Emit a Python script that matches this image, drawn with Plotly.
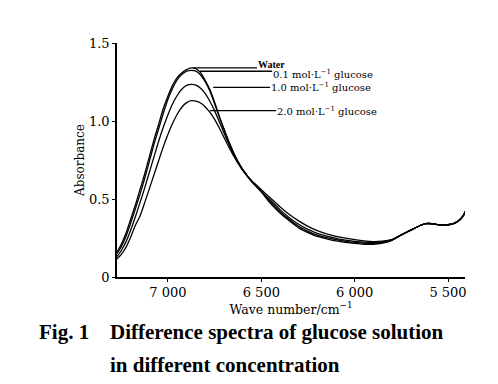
import plotly.graph_objects as go

# ---- data ----
wavenumber = [7273, 7250, 7225, 7200, 7175, 7150, 7125, 7100, 7075, 7050, 7025, 7000,
              6975, 6950, 6925, 6900, 6875, 6850, 6825, 6800, 6775, 6750, 6725, 6700,
              6675, 6650, 6625, 6600, 6550, 6500, 6450, 6400, 6350, 6300, 6250, 6200,
              6150, 6100, 6050, 6000, 5950, 5900, 5850, 5800, 5750, 5700, 5650, 5620,
              5600, 5575, 5550, 5525, 5500, 5475, 5450, 5430, 5415, 5408]

tail = [0.27, 0.30, 0.33, 0.342, 0.343, 0.34, 0.335, 0.333, 0.335, 0.34, 0.355, 0.375, 0.40, 0.42]

water = [0.16, 0.21, 0.28, 0.37, 0.46, 0.56, 0.66, 0.77, 0.88, 0.98, 1.08, 1.16,
         1.23, 1.28, 1.31, 1.33, 1.34, 1.335, 1.31, 1.26, 1.20, 1.12, 1.03, 0.95,
         0.87, 0.80, 0.74, 0.69, 0.61, 0.545, 0.47, 0.41, 0.36, 0.315, 0.285, 0.26,
         0.245, 0.232, 0.222, 0.215, 0.21, 0.21, 0.218, 0.235] + tail

glucose_01 = [0.15, 0.195, 0.26, 0.345, 0.435, 0.53, 0.63, 0.74, 0.85, 0.95, 1.05, 1.14,
              1.21, 1.265, 1.30, 1.32, 1.325, 1.32, 1.295, 1.25, 1.19, 1.11, 1.025, 0.945,
              0.87, 0.80, 0.74, 0.69, 0.61, 0.55, 0.48, 0.42, 0.368, 0.325, 0.293, 0.268,
              0.252, 0.239, 0.229, 0.222, 0.217, 0.216, 0.222, 0.237] + tail

glucose_10 = [0.13, 0.17, 0.225, 0.30, 0.385, 0.475, 0.57, 0.67, 0.77, 0.87, 0.96, 1.04,
              1.11, 1.165, 1.205, 1.228, 1.235, 1.23, 1.21, 1.175, 1.125, 1.065, 0.995, 0.925,
              0.855, 0.79, 0.735, 0.685, 0.61, 0.55, 0.49, 0.432, 0.38, 0.338, 0.305, 0.28,
              0.262, 0.248, 0.237, 0.229, 0.223, 0.221, 0.226, 0.239] + tail

glucose_20 = [0.115, 0.145, 0.19, 0.255, 0.33, 0.39, 0.475, 0.565, 0.655, 0.745, 0.835, 0.915,
              0.985, 1.045, 1.09, 1.118, 1.13, 1.128, 1.115, 1.09, 1.055, 1.01, 0.955, 0.895,
              0.835, 0.78, 0.73, 0.685, 0.615, 0.56, 0.505, 0.45, 0.40, 0.36, 0.325, 0.297,
              0.277, 0.261, 0.249, 0.239, 0.231, 0.227, 0.23, 0.241] + tail

series = [water, glucose_01, glucose_10, glucose_20]

labels = ["<b>Water</b>", "0.1 mol·L<sup>−1</sup> glucose",
          "1.0 mol·L<sup>−1</sup> glucose", "2.0 mol·L<sup>−1</sup> glucose"]
# leader lines: start wavenumber, end wavenumber, absorbance level
label_start = [6866, 6828, 6758, 6775]
label_end = [6523, 6442, 6453, 6421]
label_level = [1.34, 1.319, 1.215, 1.067]
label_text_y = [1.365, 1.30, 1.215, 1.067]

x_tickvals = [7000, 6500, 6000, 5500]
x_ticktext = ["7 000", "6 500", "6 000", "5 500"]
y_tickvals = [0, 0.5, 1.0, 1.5]
y_ticktext = ["0", "0.5", "1.0", "1.5"]

WIDE = "DejaVu Serif, serif"
TIMES = "Liberation Serif, Times New Roman, serif"

# plot area in page pixels (page has an 8px body margin)
L, T, W, H = 117, 43, 348, 234


def px(xp):
    return (xp - L) / W


def py(yp):
    return (T + H - yp) / H


fig = go.Figure()
for s in series:
    fig.add_trace(go.Scatter(x=wavenumber, y=s, mode="lines",
                             line=dict(color="black", width=1.3, shape="spline", smoothing=0.6),
                             showlegend=False, hoverinfo="skip"))

for i, (xs, xe, lv, ty, txt) in enumerate(zip(label_start, label_end, label_level, label_text_y, labels)):
    fig.add_shape(type="line", xref="x", yref="y", x0=xs, x1=xe, y0=lv, y1=lv,
                  line=dict(color="black", width=1.3))
    f = dict(family=TIMES, size=10, color="black") if i == 0 else dict(family=WIDE, size=10, color="black")
    fig.add_annotation(x=xe, y=ty, xref="x", yref="y", text=txt, showarrow=False,
                       xanchor="left", yanchor="middle", xshift=-1, font=f)

cap_font = dict(family=TIMES, size=21, color="black")
fig.add_annotation(x=px(37), y=py(332), xref="paper", yref="paper", text="<b>Fig. 1</b>",
                   showarrow=False, xanchor="left", yanchor="middle", font=cap_font)
fig.add_annotation(x=px(108), y=py(332), xref="paper", yref="paper",
                   text="<b>Difference spectra of glucose solution</b>", showarrow=False,
                   xanchor="left", yanchor="middle", font=cap_font)
fig.add_annotation(x=px(108), y=py(365), xref="paper", yref="paper",
                   text="<b>in different concentration</b>", showarrow=False,
                   xanchor="left", yanchor="middle", font=cap_font)

fig.update_layout(
    width=498, height=384,
    margin=dict(l=L - 8, r=498 + 8 - (L + W), t=T - 8, b=384 + 8 - (T + H)),
    paper_bgcolor="white", plot_bgcolor="white",
    font=dict(family=WIDE, color="black"),
    xaxis=dict(range=[7273, 5409], tickvals=x_tickvals, ticktext=x_ticktext,
               ticks="outside", ticklen=3, tickwidth=1.3, tickcolor="black",
               showline=True, linecolor="black", linewidth=1.6, showgrid=False, zeroline=False,
               tickfont=dict(family=WIDE, size=13),
               title=dict(text="Wave number/cm<sup>−1</sup>", font=dict(family=WIDE, size=12.5), standoff=4)),
    yaxis=dict(range=[0, 1.5], tickvals=y_tickvals, ticktext=y_ticktext,
               ticks="outside", ticklen=3, tickwidth=1.3, tickcolor="black",
               showline=True, linecolor="black", linewidth=1.6, showgrid=False, zeroline=False,
               tickfont=dict(family=WIDE, size=13),
               title=dict(text="Absorbance", font=dict(family=WIDE, size=12), standoff=2)),
)

fig.write_html("out.html")
